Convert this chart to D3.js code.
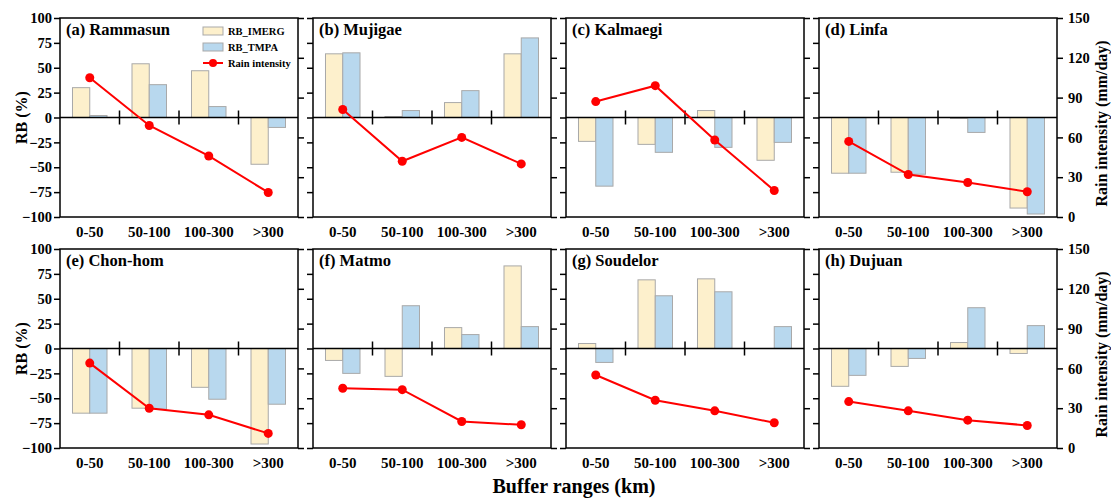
<!DOCTYPE html>
<html>
<head>
<meta charset="utf-8">
<script src="https://cdn.jsdelivr.net/npm/d3@7"></script>
<style>
  body { margin: 0; background: #fff; }
  text { font-family: "Liberation Serif", "Times New Roman", serif; font-weight: bold; fill: #000; }
</style>
</head>
<body>
<script>
// buffer ranges and typhoons
const categories = ["0-50", "50-100", "100-300", ">300"];
const storms = ["(a) Rammasun", "(b) Mujigae", "(c) Kalmaegi", "(d) Linfa",
                "(e) Chon-hom", "(f) Matmo", "(g) Soudelor", "(h) Dujuan"];

// relative bias (%) per buffer range
const imergRB = [
    [30, 54, 47, -47],
    [64, 1, 15, 64],
    [-24, -27, 7, -43],
    [-56, -55, -1, -91],
    [-65, -60, -39, -96],
    [-12, -28, 21, 83],
    [5, 69, 70, 0],
    [-38, -18, 6, -5]
];
const tmpaRB = [
    [2, 33, 11, -10],
    [65, 7, 27, 80],
    [-69, -35, -30, -25],
    [-56, -57, -15, -97],
    [-65, -61, -51, -56],
    [-25, 43, 14, 22],
    [-14, 53, 57, 22],
    [-27, -10, 41, 23]
];
// rain intensity (mm/day)
const rainIntensity = [
    [105, 69, 46, 18.5],
    [81, 42, 60, 40],
    [87, 99, 58, 20],
    [57, 32, 26, 19],
    [64, 30, 25, 11],
    [45, 44, 20, 17.5],
    [55, 36, 28, 19],
    [35, 28, 21, 17]
];

// axis ticks
const rbTicks = [-100, -75, -50, -25, 0, 25, 50, 75, 100];
const rainTicks = [0, 30, 60, 90, 120, 150];

const imergColor = "#fdf0cc", tmpaColor = "#b8d8ee", barStroke = "#a9a9a9", lineColor = "#ff0000";

const W = 238, H = 199;
const lefts = [60, 313, 566, 819];
const tops = [18, 249];

const svg = d3.select("body").append("svg")
    .attr("width", 1111)
    .attr("height", 499);

storms.forEach((name, i) => {
    const col = i % 4, row = Math.floor(i / 4);
    const g = svg.append("g").attr("transform", `translate(${lefts[col]},${tops[row]})`);

    const x = d3.scaleBand().domain(categories).range([0, W]);
    const yRB = d3.scaleLinear().domain([-100, 100]).range([H, 0]);
    const yRain = d3.scaleLinear().domain([0, 150]).range([H, 0]);
    const bw = x.bandwidth() * 0.29;
    const cx = c => x(c) + x.bandwidth() / 2;

    // bars
    const series = [
        { vals: imergRB[i], color: imergColor, off: -bw },
        { vals: tmpaRB[i], color: tmpaColor, off: 0 }
    ];
    series.forEach(s => {
        g.selectAll(null)
            .data(categories.map((c, k) => ({ c, v: s.vals[k] })))
            .join("rect")
            .attr("x", d => cx(d.c) + s.off)
            .attr("y", d => yRB(Math.max(0, d.v)))
            .attr("width", bw)
            .attr("height", d => Math.abs(yRB(d.v) - yRB(0)))
            .attr("fill", s.color)
            .attr("stroke", barStroke)
            .attr("stroke-width", 1);
    });

    // zero line and category dividers
    g.append("line")
        .attr("x1", 0).attr("x2", W)
        .attr("y1", yRB(0)).attr("y2", yRB(0))
        .attr("stroke", "#000").attr("stroke-width", 1.5);
    g.selectAll(null)
        .data(categories.slice(1))
        .join("line")
        .attr("x1", d => x(d)).attr("x2", d => x(d))
        .attr("y1", yRB(0) - 7).attr("y2", yRB(0) + 7)
        .attr("stroke", "#000").attr("stroke-width", 1.5);

    // rain intensity line
    const pts = categories.map((c, k) => ({ c, v: rainIntensity[i][k] }));
    g.append("path")
        .datum(pts)
        .attr("fill", "none")
        .attr("stroke", lineColor)
        .attr("stroke-width", 2)
        .attr("d", d3.line().x(d => cx(d.c)).y(d => yRain(d.v)));
    g.selectAll(null)
        .data(pts)
        .join("circle")
        .attr("cx", d => cx(d.c))
        .attr("cy", d => yRain(d.v))
        .attr("r", 4.5)
        .attr("fill", lineColor);

    // frame
    g.append("rect")
        .attr("width", W).attr("height", H)
        .attr("fill", "none")
        .attr("stroke", "#000").attr("stroke-width", 1.5);

    // left axis
    const left = g.append("g")
        .call(d3.axisLeft(yRB).tickValues(rbTicks).tickSize(6).tickPadding(2)
            .tickFormat(col === 0 ? d3.format("d") : ""));
    // right axis
    const right = g.append("g")
        .attr("transform", `translate(${W},0)`)
        .call(d3.axisRight(yRain).tickValues(rainTicks).tickSize(6).tickPadding(5)
            .tickFormat(col === 3 ? d3.format("d") : ""));
    // category labels
    const bottom = g.append("g")
        .attr("transform", `translate(0,${H})`)
        .call(d3.axisBottom(x).tickSize(0).tickPadding(9));

    [left, right, bottom].forEach(a => {
        a.select(".domain").remove();
        a.selectAll(".tick line").attr("stroke", "#000").attr("stroke-width", 1.5);
        a.selectAll("text").attr("font-size", 14.5).attr("font-weight", "bold")
            .style("font-family", '"Liberation Serif", "Times New Roman", serif');
    });
    bottom.selectAll("text").attr("font-size", 15);

    // panel title
    g.append("text")
        .attr("x", 6).attr("y", 17)
        .attr("font-size", 16.5)
        .text(name);

    if (col === 0) {
        svg.append("text")
            .attr("transform", `translate(21,${tops[row] + yRB(0)}) rotate(-90)`)
            .attr("text-anchor", "middle")
            .attr("dy", "0.35em")
            .attr("font-size", 16)
            .text("RB (%)");
    }
    if (col === 3) {
        svg.append("text")
            .attr("transform", `translate(1101,${tops[row] + H / 2 + 6}) rotate(-90)`)
            .attr("text-anchor", "middle")
            .attr("dy", "0.35em")
            .attr("font-size", 16)
            .text("Rain intensity (mm/day)");
    }

    // legend in first panel
    if (i === 0) {
        const lg = g.append("g").attr("transform", "translate(143,9)");
        const items = [
            { label: "RB_IMERG", color: imergColor },
            { label: "RB_TMPA", color: tmpaColor },
            { label: "Rain intensity", line: true }
        ];
        items.forEach((it, k) => {
            const yy = k * 16;
            if (it.line) {
                lg.append("line").attr("x1", 0).attr("x2", 20).attr("y1", yy + 4).attr("y2", yy + 4)
                    .attr("stroke", lineColor).attr("stroke-width", 2);
                lg.append("circle").attr("cx", 10).attr("cy", yy + 4).attr("r", 4).attr("fill", lineColor);
            } else {
                lg.append("rect").attr("x", 0).attr("y", yy).attr("width", 20).attr("height", 8)
                    .attr("fill", it.color).attr("stroke", barStroke).attr("stroke-width", 1);
            }
            lg.append("text").attr("x", 25).attr("y", yy + 4).attr("dy", "0.35em")
                .attr("font-size", 10.5).text(it.label);
        });
    }
});

// shared x title
svg.append("text")
    .attr("x", 574).attr("y", 493)
    .attr("text-anchor", "middle")
    .attr("font-size", 20)
    .text("Buffer ranges (km)");
</script>
</body>
</html>
